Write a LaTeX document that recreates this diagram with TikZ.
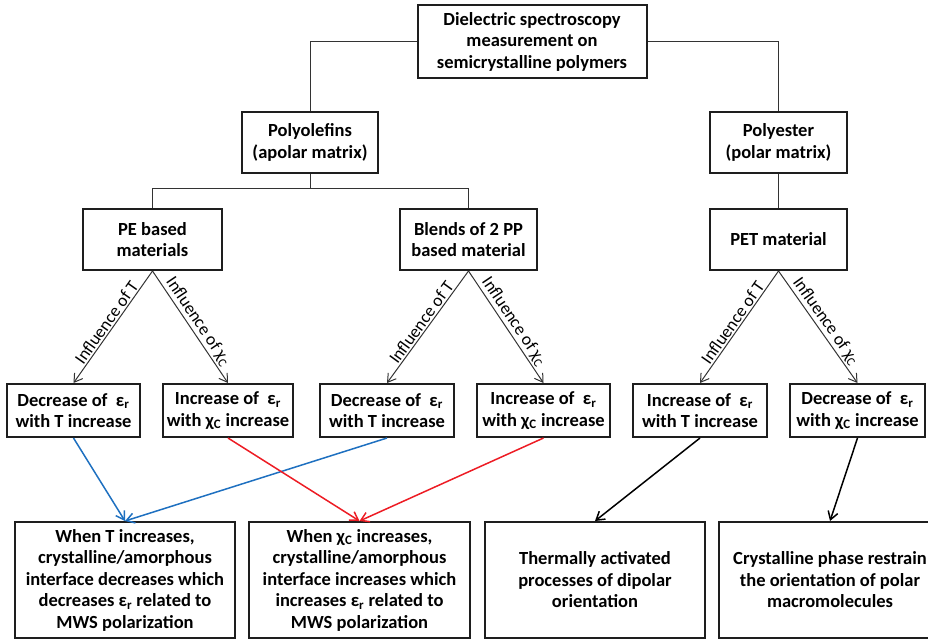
\documentclass[tikz,border=0pt]{standalone}
\usepackage{fontspec}
\setmainfont{Carlito}
\usetikzlibrary{arrows.meta}
\definecolor{boxline}{RGB}{30,30,30}
\definecolor{tblue}{RGB}{30,112,192}
\definecolor{tred}{RGB}{237,28,36}
\newcommand{\epsR}{ε\textsubscript{r}}
\newcommand{\chiC}{χ\textsubscript{C}}

\begin{document}
\begin{tikzpicture}[x=1pt,y=-1pt,>={Straight Barb[length=8pt,width=10pt]},
	box/.style={draw=boxline,line width=2pt,inner sep=0pt,align=center,font=\fontsize{18.5}{21.5}\selectfont\bfseries},
	link/.style={draw=black!80,line width=1pt},
	lab/.style={font=\fontsize{17.5}{20}\selectfont,sloped,above,midway,inner sep=1.5pt}]
	\useasboundingbox (0,0) rectangle (928,641);
	% top levels
	\node[box,minimum width=229,minimum height=73] (top) at (532,41.5) {Dielectric spectroscopy\\measurement on\\semicrystalline polymers};
	\node[box,minimum width=136,minimum height=61] (poly) at (310,142.5) {Polyolefins\\(apolar matrix)};
	\node[box,minimum width=137,minimum height=61] (polyester) at (778.5,142.5) {Polyester\\(polar matrix)};
	\node[box,minimum width=139,minimum height=61] (pe) at (152.5,239.5) {PE based\\materials};
	\node[box,minimum width=137,minimum height=61] (blends) at (468.5,239.5) {Blends of 2 PP\\based material};
	\node[box,minimum width=137,minimum height=61] (pet) at (778.5,239.5) {PET material};
	\coordinate (split) at (310,188);
	\draw[link] (top.west) -| (poly.north);
	\draw[link] (top.east) -| (polyester.north);
	\draw[link] (poly.south) -- (split);
	\draw[link] (split) -| (pe.north);
	\draw[link] (split) -| (blends.north);
	\draw[link] (polyester.south) -- (pet.north);
	% effects
	\node[box,minimum width=133,minimum height=53] (d1) at (73.5,410.5) {Decrease of \ \epsR\\with T increase};
	\node[box,minimum width=130,minimum height=53] (d2) at (228,410.5) {Increase of \ \epsR\\with \chiC{} increase};
	\node[box,minimum width=134,minimum height=53] (d3) at (387,410.5) {Decrease of \ \epsR\\with T increase};
	\node[box,minimum width=133,minimum height=53] (d4) at (543.5,410.5) {Increase of \ \epsR\\with \chiC{} increase};
	\node[box,minimum width=134,minimum height=53] (d5) at (700,410.5) {Increase of \ \epsR\\with T increase};
	\node[box,minimum width=135,minimum height=53] (d6) at (857.5,410.5) {Decrease of \ \epsR\\with \chiC{} increase};
	\draw[link,->] (pe.south) -- node[lab]{Influence of T} (d1.north);
	\draw[link,->] (pe.south) -- node[lab]{Influence of \chiC} (d2.north);
	\draw[link,->] (blends.south) -- node[lab]{Influence of T} (d3.north);
	\draw[link,->] (blends.south) -- node[lab]{Influence of \chiC} (d4.north);
	\draw[link,->] (pet.south) -- node[lab]{Influence of T} (d5.north);
	\draw[link,->] (pet.south) -- node[lab]{Influence of \chiC} (d6.north);
	% explanations
	\node[box,minimum width=220,minimum height=116] (mwsT) at (125,580) {When T increases,\\crystalline/amorphous\\interface decreases which\\decreases \epsR{} related to\\MWS polarization};
	\node[box,minimum width=221,minimum height=116] (mwsX) at (359.5,580) {When \chiC{} increases,\\crystalline/amorphous\\interface increases which\\increases \epsR{} related to\\MWS polarization};
	\node[box,minimum width=220,minimum height=116] (dip) at (595,580) {Thermally activated\\processes of dipolar\\orientation};
	\node[box,minimum width=222,minimum height=116] (restr) at (830,580) {Crystalline phase restrain\\the orientation of polar\\macromolecules};
	\draw[->,tblue,line width=1.5pt] (d1.south) -- (mwsT.north);
	\draw[->,tblue,line width=1.5pt] (d3.south) -- (mwsT.north);
	\draw[->,tred,line width=1.5pt] (d2.south) -- (mwsX.north);
	\draw[->,tred,line width=1.5pt] (d4.south) -- (mwsX.north);
	\draw[->,black,line width=1.5pt] (d5.south) -- (dip.north);
	\draw[->,black,line width=1.5pt] (d6.south) -- (restr.north);
\end{tikzpicture}
\end{document}
